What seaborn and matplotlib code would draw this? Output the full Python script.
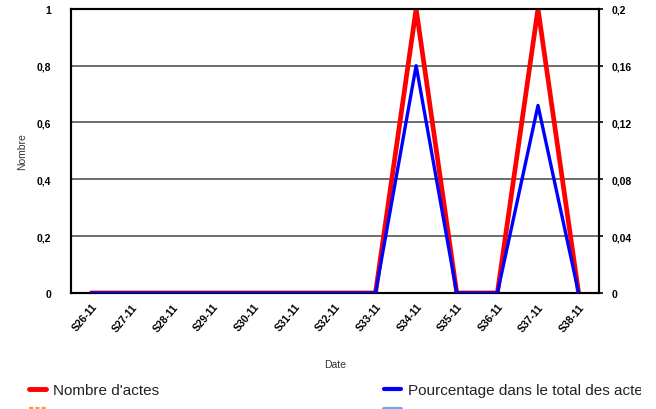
import matplotlib
matplotlib.use("Agg")
import matplotlib.pyplot as plt
from matplotlib.lines import Line2D
from matplotlib.transforms import Bbox, TransformedBbox
import seaborn as sns
import pandas as pd

# Weekly series
weeks = ["S26-11", "S27-11", "S28-11", "S29-11", "S30-11", "S31-11", "S32-11",
         "S33-11", "S34-11", "S35-11", "S36-11", "S37-11", "S38-11"]
nombre_actes = [0, 0, 0, 0, 0, 0, 0, 0, 1, 0, 0, 1, 0]
pourcentage = [0, 0, 0, 0, 0, 0, 0, 0, 0.16, 0, 0, 0.132, 0]

left_ticks = [0, 0.2, 0.4, 0.6, 0.8, 1]
left_labels = ["0", "0,2", "0,4", "0,6", "0,8", "1"]
right_ticks = [0, 0.04, 0.08, 0.12, 0.16, 0.2]
right_labels = ["0", "0,04", "0,08", "0,12", "0,16", "0,2"]

df = pd.DataFrame({"pos": range(len(weeks)), "week": weeks,
                   "nombre": nombre_actes, "pct": pourcentage})

sns.set_style("white")
plt.rcParams["font.family"] = ["Liberation Sans", "DejaVu Sans"]

fig = plt.figure(figsize=(6.56, 4.10), dpi=100)
ax = fig.add_axes([0.108, 0.283, 0.805, 0.693])
ax2 = ax.twinx()

sns.lineplot(data=df, x="pos", y="nombre", ax=ax, color="#ff0000",
             linewidth=3.4, legend=False, zorder=3)
sns.lineplot(data=df, x="pos", y="pct", ax=ax2, color="#0000ff",
             linewidth=2.4, legend=False, zorder=4)

ax.set_zorder(2)
ax2.set_zorder(3)
ax.patch.set_visible(False)

ax.set_xlim(-0.5, 12.5)
ax.set_ylim(0, 1)
ax2.set_ylim(0, 0.2)

ax.set_yticks(left_ticks)
ax.set_yticklabels(left_labels)
ax2.set_yticks(right_ticks)
ax2.set_yticklabels(right_labels)
ax.set_xticks(range(len(weeks)))
ax.set_xticklabels(weeks, rotation=50, ha="right", rotation_mode="anchor")

ax.grid(axis="y", color="#555555", linewidth=1.2)
ax.grid(axis="x", visible=False)
ax2.grid(False)

tick_font = dict(labelsize=7.5, colors="#000000")
ax.tick_params(axis="x", direction="inout", length=8, width=1.2, color="black",
               pad=2, **tick_font)
ax.tick_params(axis="y", left=False, length=0, pad=14, **tick_font)
ax2.tick_params(axis="y", right=True, direction="out", length=3, width=1.2,
                color="black", pad=6, **tick_font)
for lab in ax.get_xticklabels() + ax.get_yticklabels() + ax2.get_yticklabels():
    lab.set_fontweight("bold")

for a in (ax, ax2):
    for s in a.spines.values():
        s.set_color("black")
        s.set_linewidth(1.5)

ax.set_xlabel("Date", fontsize=7.5, color="#333333", labelpad=19)
ax.set_ylabel("Nombre", fontsize=7.5, color="#333333", labelpad=7)
ax2.set_ylabel("")

h_red = Line2D([], [], color="#ff0000", linewidth=3.5)
h_org = Line2D([], [], color="#ff9933", linewidth=3, linestyle=(0, (1, 0.5)))
h_blue = Line2D([], [], color="#0000ff", linewidth=3)
h_lb = Line2D([], [], color="#6fa8f0", linewidth=3)

leg_kw = dict(frameon=False, fontsize=11, handlelength=1.1, handletextpad=0.5,
              labelspacing=0.4, borderaxespad=0, borderpad=0, labelcolor="#222222")
leg1 = fig.legend([h_red, h_org], ["Nombre d'actes", ""], loc="upper left",
                  bbox_to_anchor=(0.044, 0.063), **leg_kw)
leg2 = fig.legend([h_blue, h_lb], ["Pourcentage dans le total des actes", ""],
                  loc="upper left", bbox_to_anchor=(0.585, 0.063), **leg_kw)

# the legend area ends short of the right border
clip = TransformedBbox(Bbox([[0, 0], [641 / 656, 1]]), fig.transFigure)
for t in leg2.get_texts():
    t.set_clip_box(clip)
    t.set_clip_on(True)

fig.savefig("out.png", dpi=100)
